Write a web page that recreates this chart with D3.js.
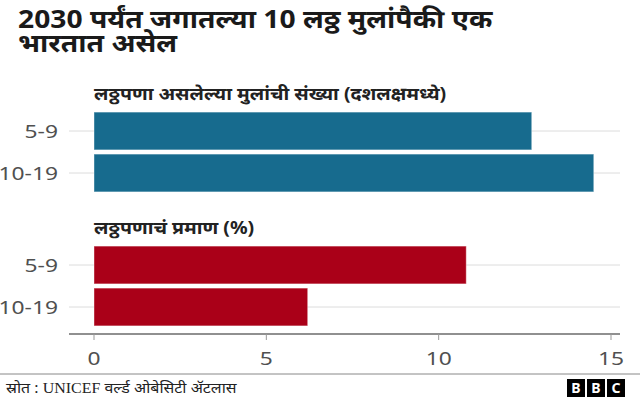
<!DOCTYPE html>
<html>
<head>
<meta charset="utf-8">
<script src="https://cdn.jsdelivr.net/npm/d3@7"></script>
<style>
  body { margin: 0; background: #fff; }
  svg { display: block; font-family: "Noto Sans", "Open Sans", sans-serif; }
</style>
</head>
<body>
<svg id="chart" width="640" height="399"></svg>
<script>
// data
let titleLines = ["2030 पर्यंत जगातल्या 10 लठ्ठ मुलांपैकी एक", "भारतात असेल"]
let categories = ["5-9", "10-19"]
let countTitle = "लठ्ठपणा असलेल्या मुलांची संख्या (दशलक्षमध्ये)"
let countValues = [12.7, 14.5]
let shareTitle = "लठ्ठपणाचं प्रमाण (%)"
let shareValues = [10.8, 6.2]
let xTicks = [0, 5, 10, 15]
let sourceParts = ["स्रोत : ", "UNICEF", " वर्ल्ड ओबेसिटी ॲटलास"]

let svg = d3.select("#chart")

// the original picture is a bit stretched sideways, so texts get a scaleX
function place(x, y, sx) {
    return "translate(" + x + "," + y + ") scale(" + sx + ",1)"
}

// title
let title = svg.append("g").attr("transform", place(18, 0, 1.13))
title.selectAll("text")
    .data(titleLines)
    .enter()
    .append("text")
    .attr("x", 0)
    .attr("y", (d, i) => 28 + i * 24)
    .style("font-size", "25px")
    .style("font-weight", "bold")
    .style("fill", "#1a1a1a")
    .text(d => d)

let x = d3.scaleLinear()
    .domain([0, 15])
    .range([94, 611])

let gridLeft = 69, gridRight = 620

function drawGroup(name, values, colour, top, bottom, titleY) {
    let y = d3.scaleBand()
        .domain(categories)
        .range([top, bottom])
        .paddingInner(0.1)
        .paddingOuter(0.05)

    // gridlines
    svg.selectAll(null)
        .data(categories)
        .enter()
        .append("line")
        .attr("x1", gridLeft)
        .attr("x2", gridRight)
        .attr("y1", d => y(d) + y.bandwidth() / 2)
        .attr("y2", d => y(d) + y.bandwidth() / 2)
        .style("stroke", "#dcdcdc")
        .style("stroke-width", 1)

    svg.selectAll(null)
        .data(values)
        .enter()
        .append("rect")
        .attr("x", x(0))
        .attr("y", (d, i) => y(categories[i]))
        .attr("width", d => x(d) - x(0))
        .attr("height", y.bandwidth())
        .style("fill", colour)
        .style("stroke", "#fff")
        .style("stroke-opacity", 0.4)
        .style("stroke-width", 1)

    // category labels
    svg.selectAll(null)
        .data(categories)
        .enter()
        .append("text")
        .attr("transform", d => place(58, y(d) + y.bandwidth() / 2, 1.2))
        .attr("dy", ".35em")
        .attr("text-anchor", "end")
        .style("font-size", "19px")
        .style("fill", "#505050")
        .text(d => d)

    svg.append("text")
        .attr("transform", place(94, titleY, 1.15))
        .attr("dy", ".35em")
        .style("font-size", "17px")
        .style("font-weight", "bold")
        .style("fill", "#222")
        .text(name)
}

drawGroup(countTitle, countValues, "#176b8e", 110, 194, 94)
drawGroup(shareTitle, shareValues, "#aa0018", 244, 328, 228)

// x axis
let axisY = 334
svg.append("line")
    .attr("x1", gridLeft)
    .attr("x2", gridRight)
    .attr("y1", axisY)
    .attr("y2", axisY)
    .style("stroke", "#222")
    .style("stroke-width", 1.2)

svg.selectAll(null)
    .data(xTicks)
    .enter()
    .append("line")
    .attr("x1", d => x(d))
    .attr("x2", d => x(d))
    .attr("y1", axisY)
    .attr("y2", axisY + 6)
    .style("stroke", "#999")

svg.selectAll(null)
    .data(xTicks)
    .enter()
    .append("text")
    .attr("transform", d => place(x(d), 358, 1.2))
    .attr("dy", ".35em")
    .attr("text-anchor", "middle")
    .style("font-size", "19px")
    .style("fill", "#505050")
    .text(d => d)

// footer
svg.append("line")
    .attr("x1", 0)
    .attr("x2", 640)
    .attr("y1", 374)
    .attr("y2", 374)
    .style("stroke", "#888")
    .style("stroke-width", 1)

svg.append("text")
    .attr("transform", place(6, 388, 1.14))
    .attr("dy", ".35em")
    .style("font-size", "14px")
    .style("fill", "#222")
    .selectAll("tspan")
    .data(sourceParts)
    .enter()
    .append("tspan")
    .style("font-family", d => d == "UNICEF" ? "'Liberation Serif', serif" : null)
    .text(d => d)

let logo = svg.append("g").attr("transform", "translate(567,379)")
logo.selectAll("rect")
    .data(["B", "B", "C"])
    .enter()
    .append("rect")
    .attr("x", (d, i) => i * 20)
    .attr("y", 0)
    .attr("width", 18)
    .attr("height", 18)
    .style("fill", "#000")
logo.selectAll("text")
    .data(["B", "B", "C"])
    .enter()
    .append("text")
    .attr("x", (d, i) => i * 20 + 9)
    .attr("y", 9)
    .attr("dy", ".36em")
    .attr("text-anchor", "middle")
    .style("font-size", "14px")
    .style("font-weight", "bold")
    .style("fill", "#fff")
    .text(d => d)
</script>
</body>
</html>
